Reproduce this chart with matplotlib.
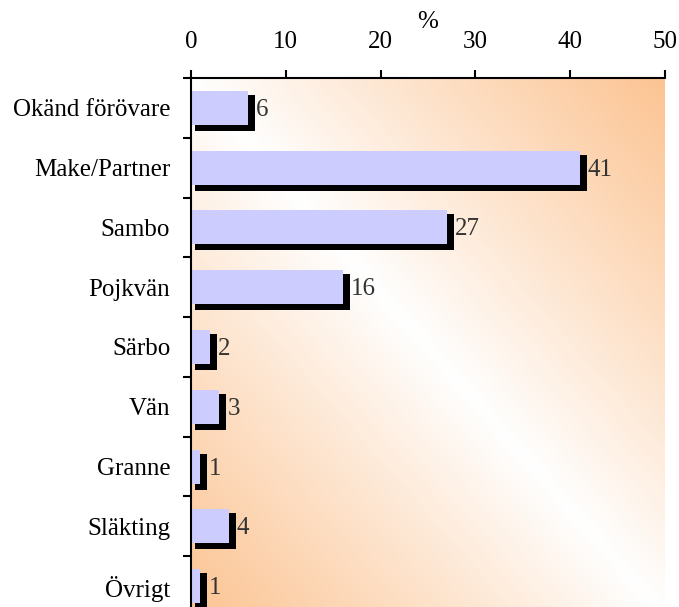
import numpy as np
import matplotlib
matplotlib.use("Agg")
import matplotlib.pyplot as plt
from matplotlib.colors import LinearSegmentedColormap

# data
categories = ["Okänd förövare", "Make/Partner", "Sambo", "Pojkvän", "Särbo",
              "Vän", "Granne", "Släkting", "Övrigt"]
values = [6, 41, 27, 16, 2, 3, 1, 4, 1]
xticks = [0, 10, 20, 30, 40, 50]

plt.rcParams['font.family'] = ['Liberation Serif', 'DejaVu Serif']
fs = 18

fig = plt.figure(figsize=(6.79, 6.07), dpi=100)
ax = fig.add_axes([0.2813, -0.0148, 0.698, 0.8863])

# diagonal gradient background: white along the top-left/bottom-right diagonal,
# peach towards the other two corners
u = np.linspace(0, 1, 300)
v = np.linspace(1, 0, 300)
U, V = np.meshgrid(u, v)
d = np.abs(U + V - 1) ** 0.95
cmap = LinearSegmentedColormap.from_list("peach", ["#ffffff", "#fcc493"])
ax.imshow(d, cmap=cmap, vmin=0, vmax=1, extent=[0, 1, 0, 1],
          transform=ax.transAxes, aspect="auto", zorder=0, interpolation="bilinear")

y = np.arange(len(categories))
px_x = 1 / 9.48      # one pixel in x data units
px_y = 1 / 59.7      # one pixel in y data units

# black shadow behind each bar
ax.barh(y + 5 * px_y, [val + 3 * px_x for val in values], height=36 * px_y,
        left=4 * px_x, color="black", zorder=2)
ax.barh(y, values, height=34 * px_y, color="#ccccff", zorder=3)

for yi, val in zip(y, values):
    ax.text(val + 8 * px_x, yi + 2 * px_y, str(val), va="center", ha="left",
            fontsize=fs, color="#333333", zorder=4)

ax.set_xlim(0, 50)
ax.set_ylim(len(categories) - 0.5, -0.5)
ax.xaxis.tick_top()
ax.xaxis.set_label_position("top")
ax.set_xticks(xticks)
ax.set_xticklabels([str(t) for t in xticks], fontsize=fs)
ax.set_xlabel("%", fontsize=fs, labelpad=2)

ax.set_yticks(y)
ax.set_yticklabels(categories, fontsize=fs)
ax.set_yticks(np.arange(-0.5, len(categories)), minor=True)
ax.tick_params(axis="y", which="major", length=0, pad=15)
ax.tick_params(axis="y", which="minor", length=6, width=1.5, direction="out")
ax.tick_params(axis="x", length=6, width=1.5, direction="out", pad=12)

for s in ["bottom", "right"]:
    ax.spines[s].set_visible(False)
for s in ["top", "left"]:
    ax.spines[s].set_linewidth(1.5)
    ax.spines[s].set_zorder(5)

fig.savefig("out.png", dpi=100)
